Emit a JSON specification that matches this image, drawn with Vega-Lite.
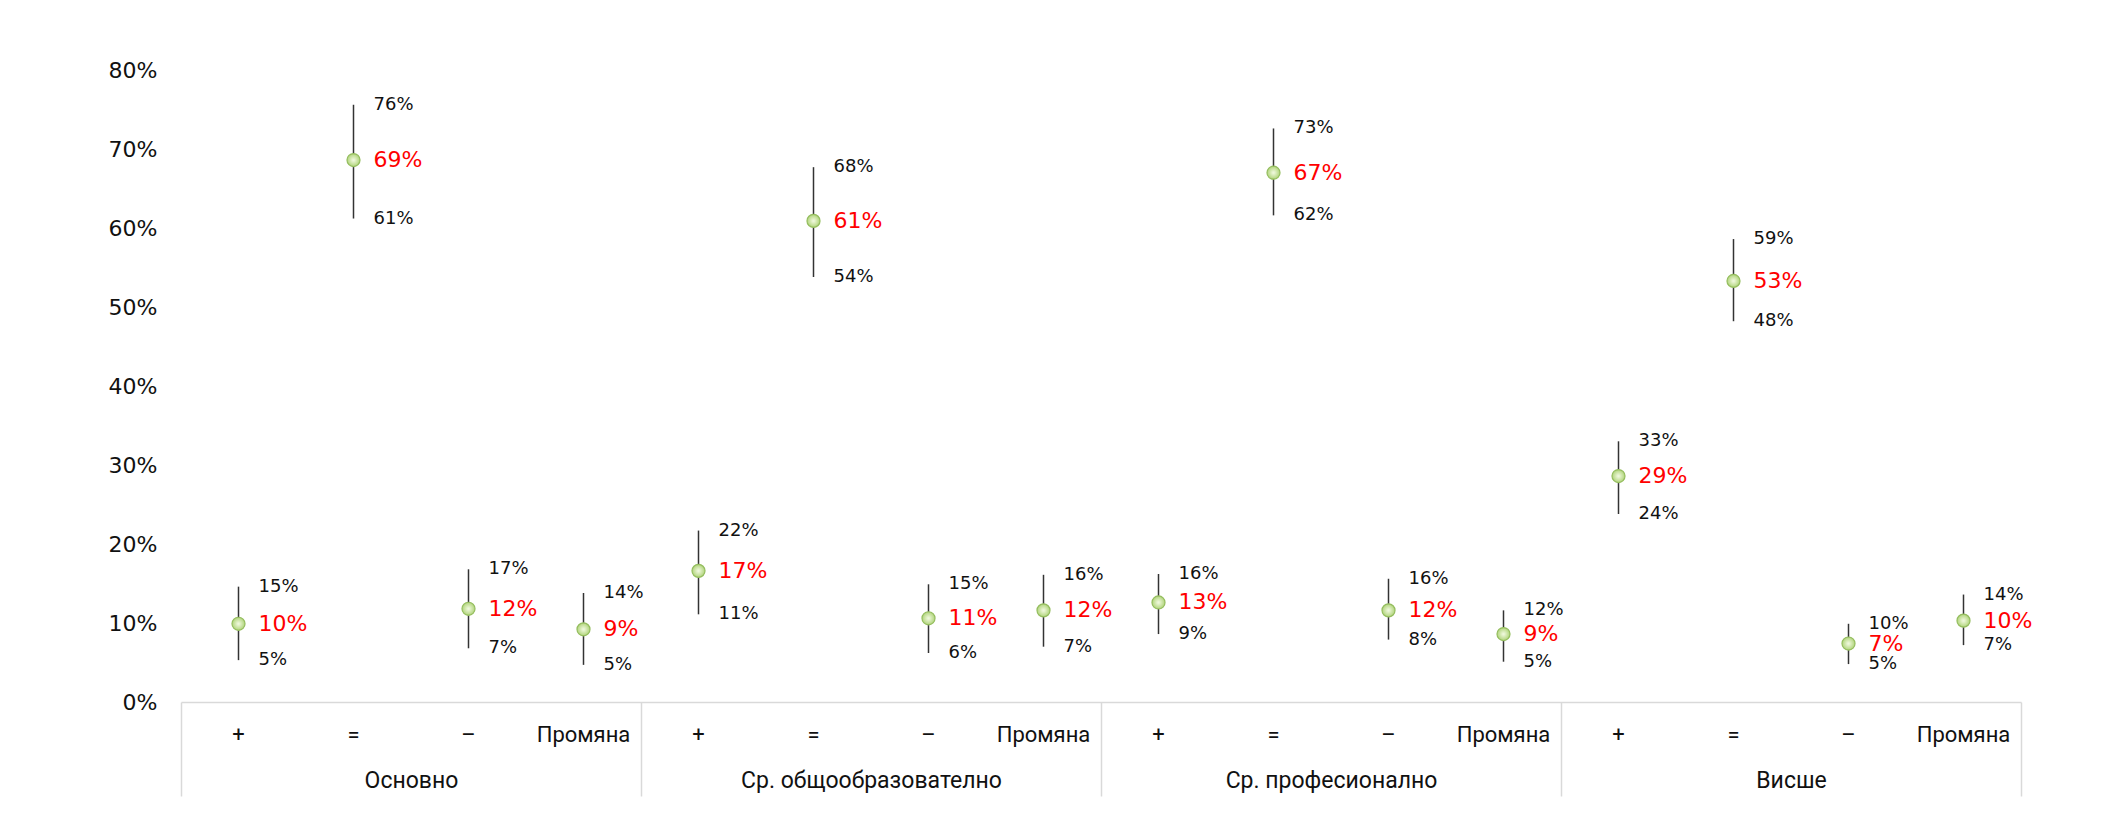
{
  "$schema": "https://vega.github.io/schema/vega-lite/v6.json",
  "width": 1840,
  "height": 632,
  "autosize": {"type": "none"},
  "padding": {"left": 181, "top": 70, "right": 95, "bottom": 131},
  "background": "white",
  "config": {"view": {"stroke": null}},
  "data": {
    "values": [
      {"k": "Основно|+", "g": "Основно", "mid": 0.099, "hi": 0.146, "lo": 0.053},
      {"k": "Основно|=", "g": "Основно", "mid": 0.686, "hi": 0.756, "lo": 0.612},
      {"k": "Основно|–", "g": "Основно", "mid": 0.118, "hi": 0.168, "lo": 0.068},
      {"k": "Основно|Промяна", "g": "Основно", "mid": 0.092, "hi": 0.138, "lo": 0.047},
      {"k": "Ср. общообразователно|+", "g": "Ср. общообразователно", "mid": 0.166, "hi": 0.217, "lo": 0.111},
      {"k": "Ср. общообразователно|=", "g": "Ср. общообразователно", "mid": 0.609, "hi": 0.677, "lo": 0.538},
      {"k": "Ср. общообразователно|–", "g": "Ср. общообразователно", "mid": 0.106, "hi": 0.149, "lo": 0.062},
      {"k": "Ср. общообразователно|Промяна", "g": "Ср. общообразователно", "mid": 0.116, "hi": 0.161, "lo": 0.07},
      {"k": "Ср. професионално|+", "g": "Ср. професионално", "mid": 0.126, "hi": 0.162, "lo": 0.086},
      {"k": "Ср. професионално|=", "g": "Ср. професионално", "mid": 0.67, "hi": 0.726, "lo": 0.616},
      {"k": "Ср. професионално|–", "g": "Ср. професионално", "mid": 0.116, "hi": 0.156, "lo": 0.079},
      {"k": "Ср. професионално|Промяна", "g": "Ср. професионално", "mid": 0.086, "hi": 0.116, "lo": 0.051},
      {"k": "Висше|+", "g": "Висше", "mid": 0.286, "hi": 0.33, "lo": 0.238},
      {"k": "Висше|=", "g": "Висше", "mid": 0.533, "hi": 0.586, "lo": 0.482},
      {"k": "Висше|–", "g": "Висше", "mid": 0.074, "hi": 0.099, "lo": 0.048},
      {"k": "Висше|Промяна", "g": "Висше", "mid": 0.103, "hi": 0.136, "lo": 0.072}
    ]
  },
  "layer": [
    {
      "encoding": {
        "x": {
          "field": "k", "type": "nominal", "sort": null,
          "scale": {"paddingInner": 0, "paddingOuter": 0},
          "axis": {
            "orient": "bottom", "title": null, "domain": false, "ticks": false,
            "labelAngle": 0, "labelExpr": "split(datum.label, '|')[1]",
            "labelFont": "Roboto", "labelFontSize": 22, "labelColor": "#111111",
            "labelBaseline": "middle", "labelPadding": 32, "labelLimit": 0
          }
        }
      },
      "layer": [
        {
          "mark": {"type": "rule", "color": "#333333", "strokeWidth": 1.5},
          "encoding": {
            "y": {
              "field": "hi", "type": "quantitative",
              "scale": {"domain": [0, 0.8], "nice": false},
              "axis": {
                "title": null, "values": [0, 0.1, 0.2, 0.3, 0.4, 0.5, 0.6, 0.7, 0.8],
                "format": ".0%", "grid": false, "domain": false, "ticks": false,
                "labelPadding": 24, "labelFont": "DejaVu Sans", "labelFontSize": 22,
                "labelColor": "#111111"
              }
            },
            "y2": {"field": "lo"}
          }
        },
        {
          "mark": {
            "type": "point", "filled": true, "size": 170, "opacity": 1,
            "fill": {"gradient": "radial", "stops": [{"offset": 0, "color": "#f4fbe4"}, {"offset": 1, "color": "#b0d47a"}]},
            "stroke": "#94bd5e", "strokeWidth": 1.2
          },
          "encoding": {"y": {"field": "mid", "type": "quantitative"}}
        },
        {
          "mark": {"type": "text", "align": "left", "baseline": "middle", "dx": 20, "font": "DejaVu Sans", "fontSize": 18, "color": "#111111"},
          "encoding": {
            "y": {"field": "hi", "type": "quantitative"},
            "text": {"field": "hi", "type": "quantitative", "format": ".0%"}
          }
        },
        {
          "mark": {"type": "text", "align": "left", "baseline": "middle", "dx": 20, "font": "DejaVu Sans", "fontSize": 22, "color": "#ff0000"},
          "encoding": {
            "y": {"field": "mid", "type": "quantitative"},
            "text": {"field": "mid", "type": "quantitative", "format": ".0%"}
          }
        },
        {
          "mark": {"type": "text", "align": "left", "baseline": "middle", "dx": 20, "font": "DejaVu Sans", "fontSize": 18, "color": "#111111"},
          "encoding": {
            "y": {"field": "lo", "type": "quantitative"},
            "text": {"field": "lo", "type": "quantitative", "format": ".0%"}
          }
        }
      ]
    },
    {
      "mark": {"type": "rule", "opacity": 0},
      "encoding": {
        "x": {
          "field": "g", "type": "nominal", "sort": null,
          "scale": {"paddingInner": 0, "paddingOuter": 0},
          "axis": {
            "orient": "bottom", "title": null, "labelAngle": 0,
            "domain": true, "domainColor": "#d9d9d9", "domainWidth": 1.5,
            "ticks": true, "tickBand": "extent", "tickSize": 94, "tickColor": "#d9d9d9", "tickWidth": 1.5,
            "labelFont": "Roboto", "labelFontSize": 23, "labelColor": "#111111",
            "labelBaseline": "middle", "labelPadding": -16, "labelLimit": 0
          }
        }
      }
    }
  ],
  "resolve": {"scale": {"x": "independent"}, "axis": {"x": "independent"}}
}
